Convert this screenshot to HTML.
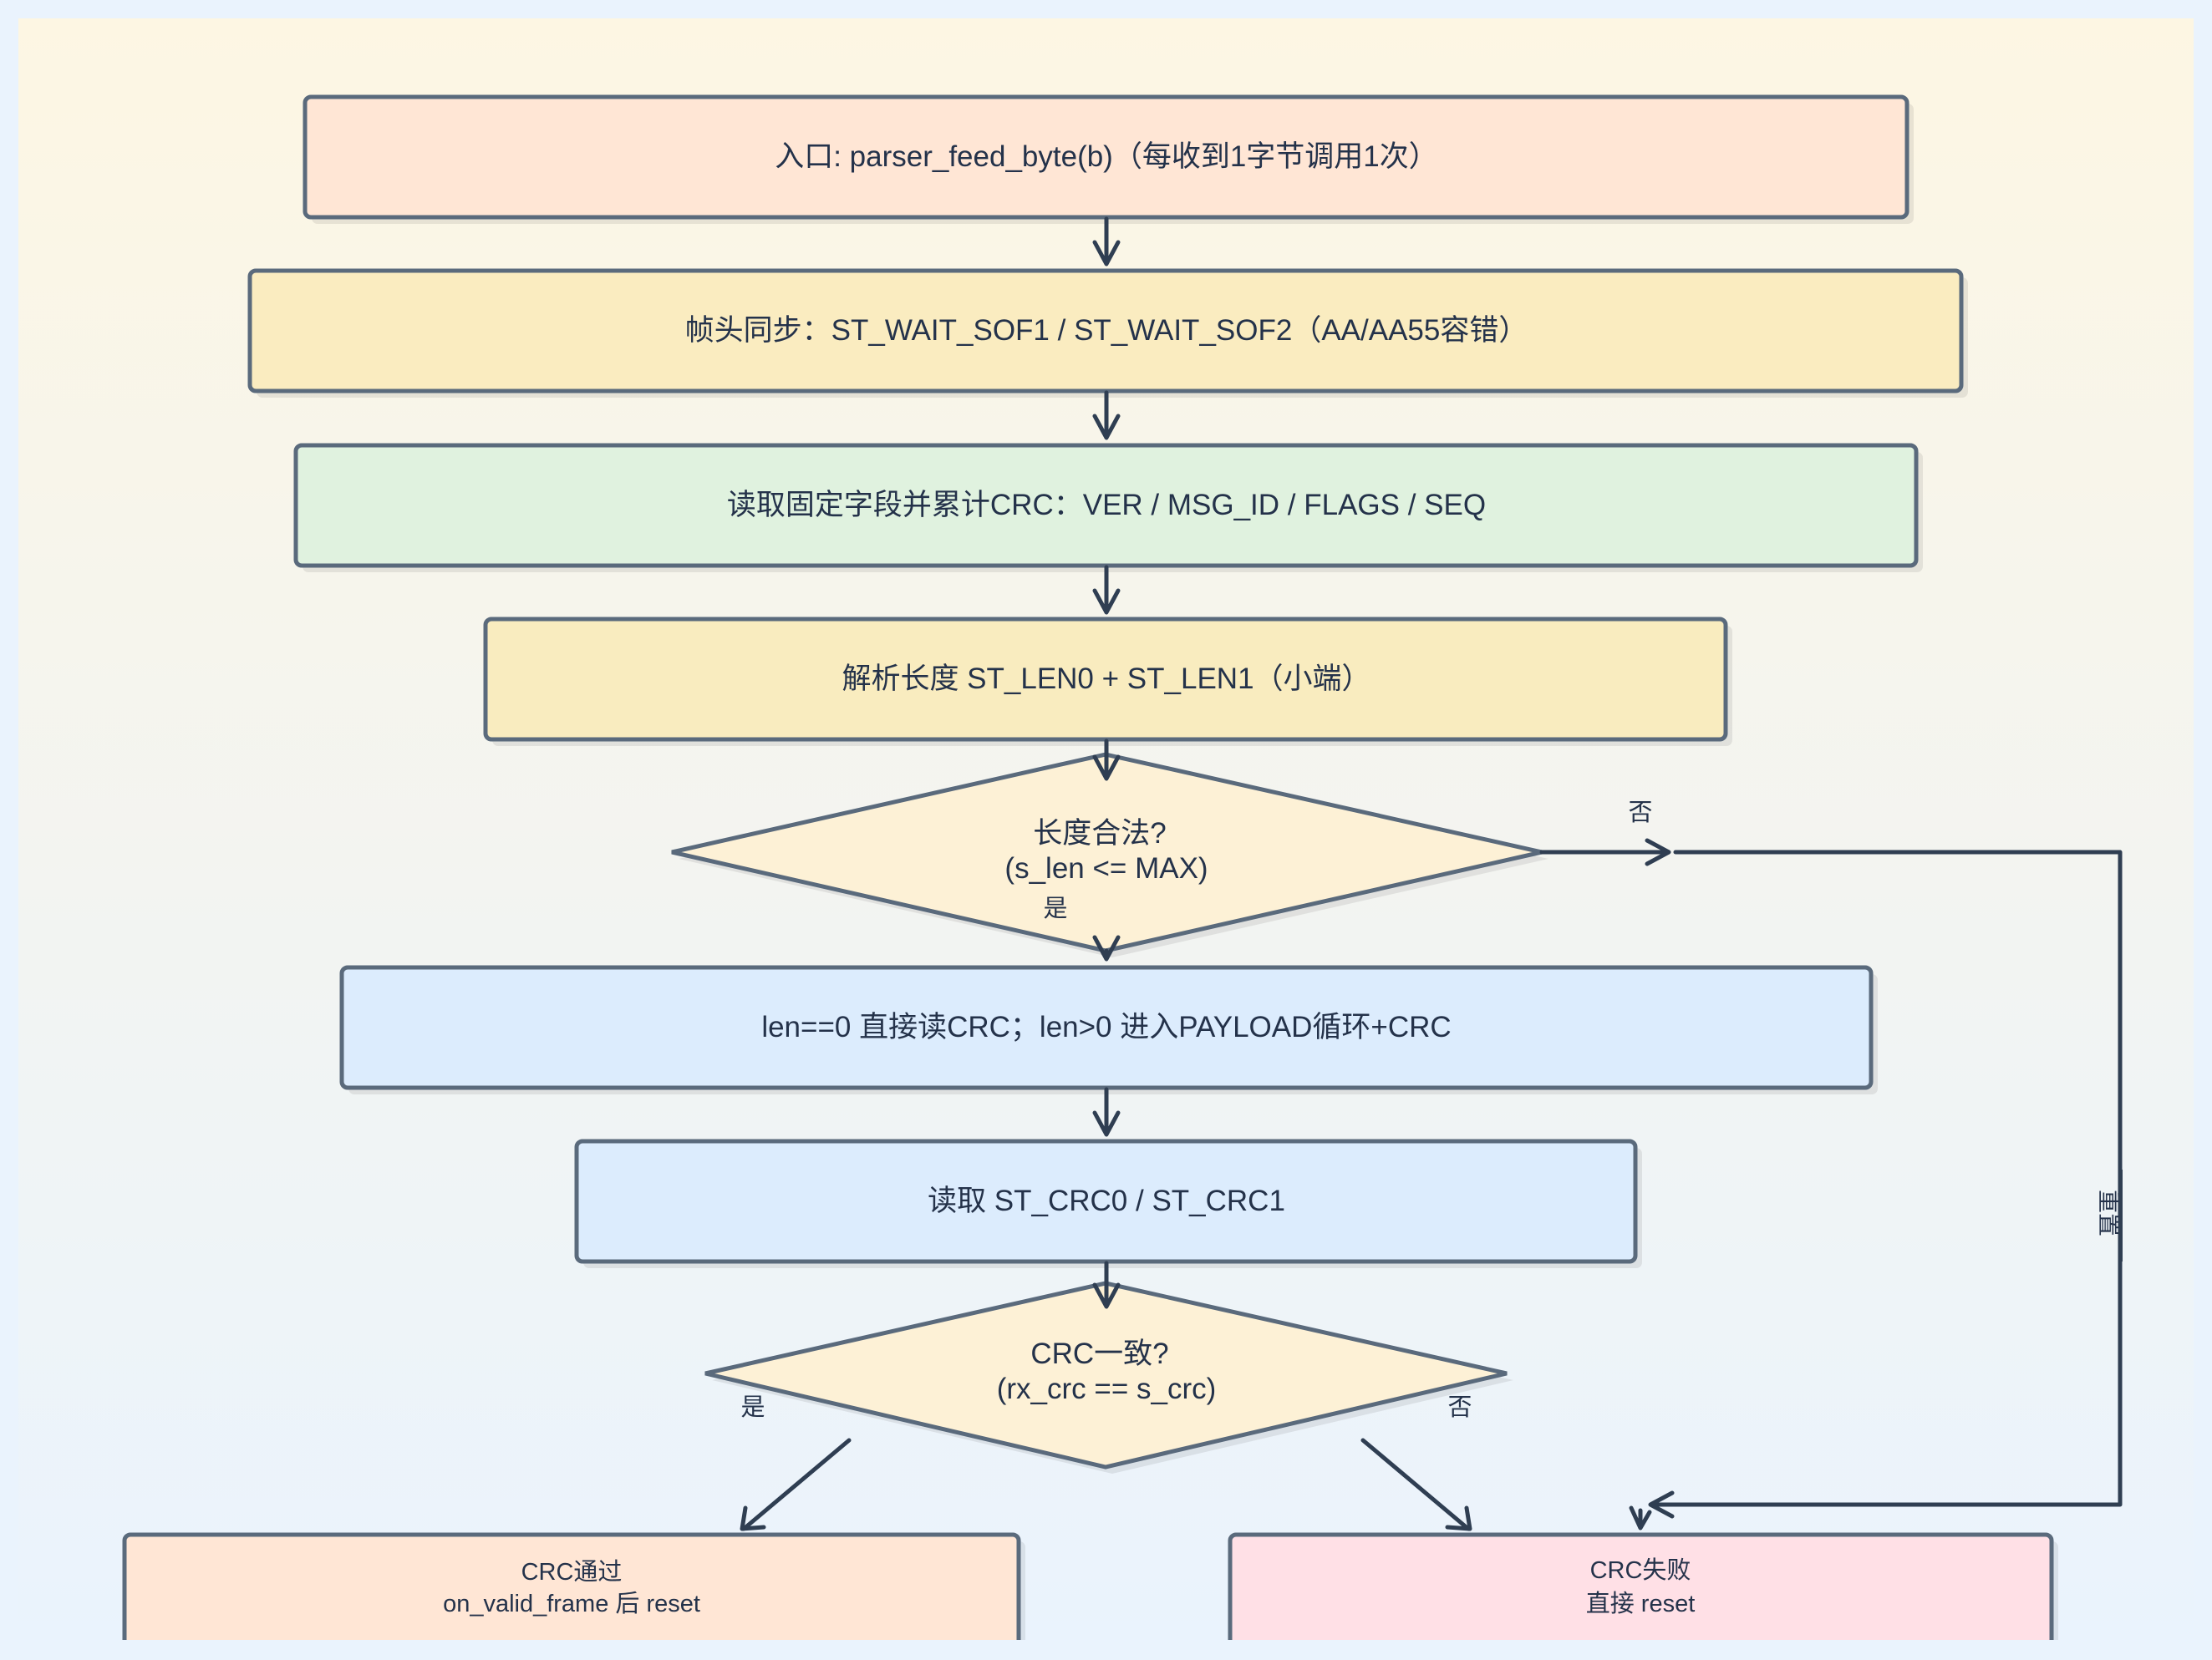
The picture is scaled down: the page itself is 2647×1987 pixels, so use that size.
<!DOCTYPE html>
<html><head><meta charset="utf-8"><style>
html,body{margin:0;padding:0;background:#eaf3fd;}
svg{display:block}
text{font-family:"Liberation Sans","Noto Sans CJK SC",sans-serif;fill:#24324a;}
</style></head><body>
<svg width="2647" height="1987" viewBox="0 0 2647 1987" xmlns="http://www.w3.org/2000/svg">
<defs>
<linearGradient id="bg" x1="0" y1="0" x2="0" y2="1">
<stop offset="0" stop-color="#fdf6e3"/><stop offset="1" stop-color="#eaf3fd"/>
</linearGradient>
<clipPath id="cp"><rect x="0" y="0" width="2647" height="1963"/></clipPath>
</defs>
<rect x="0" y="0" width="2647" height="1987" fill="#eaf3fd"/>
<rect x="22" y="22" width="2603" height="1941" fill="url(#bg)"/>
<g stroke="#5a6a7c" stroke-width="5" clip-path="url(#cp)">
<g fill="#000" fill-opacity="0.08" stroke="none">
<rect x="373" y="124" width="1917" height="144" rx="7"/>
<rect x="307" y="332" width="2048" height="144" rx="7"/>
<rect x="362" y="541" width="1939" height="144" rx="7"/>
<rect x="589" y="749" width="1484" height="144" rx="7"/>
<rect x="417" y="1166" width="1830" height="144" rx="7"/>
<rect x="698" y="1374" width="1267" height="144" rx="7"/>
<rect x="157" y="1845" width="1070" height="144" rx="7"/>
<rect x="1480" y="1845" width="983" height="144" rx="7"/>
<polygon points="812,1028 1331,911 1853,1028 1331,1146"/>
<polygon points="852,1652 1331,1544 1811,1652 1331,1764"/>
</g>
<rect x="365" y="116" width="1917" height="144" rx="7" fill="#ffe6d5"/>
<rect x="299" y="324" width="2048" height="144" rx="7" fill="#faecc0"/>
<rect x="354" y="533" width="1939" height="144" rx="7" fill="#e0f2df"/>
<rect x="581" y="741" width="1484" height="144" rx="7" fill="#f9ecbf"/>
<polygon points="804,1020 1323,903 1845,1020 1323,1138" fill="#fdf1d6"/>
<rect x="409" y="1158" width="1830" height="144" rx="7" fill="#dcecfd"/>
<rect x="690" y="1366" width="1267" height="144" rx="7" fill="#dcecfd"/>
<polygon points="844,1644 1323,1536 1803,1644 1323,1756" fill="#fdf1d6"/>
<rect x="149" y="1837" width="1070" height="144" rx="7" fill="#ffe6d5"/>
<rect x="1472" y="1837" width="983" height="144" rx="7" fill="#ffe0e6"/>
</g>
<g stroke="#2f3e52" stroke-width="5" fill="none" stroke-linecap="round" stroke-linejoin="round">
<path d="M1324 262V314 M1310 290L1324 316L1338 290"/>
<path d="M1324 470V522 M1310 498L1324 524L1338 498"/>
<path d="M1324 679V731 M1310 707L1324 733L1338 707"/>
<path d="M1324 887V930 M1310 906L1324 932L1338 906"/>
<path d="M1324 1138V1146 M1310 1122L1324 1148L1338 1122"/>
<path d="M1324 1304V1356 M1310 1332L1324 1358L1338 1332"/>
<path d="M1324 1512V1560 M1310 1538L1324 1564L1338 1538"/>
<path d="M1845 1020H1995 M1971 1006L1997 1020L1971 1034"/>
<path d="M2005 1020H2537V1801H1977 M2001 1787L1975 1801L2001 1815"/>
<path d="M1963 1808V1827 M1952 1805L1963 1829L1974 1810"/>
<path d="M1016 1724L890 1830 M892 1805L888 1830L914 1828"/>
<path d="M1631 1724L1757 1830 M1732 1828L1759 1830L1755 1805"/>
</g>
<g font-size="35" text-anchor="middle">
<text x="1324" y="199">入口: parser_feed_byte(b)（每收到1字节调用1次）</text>
<text x="1324" y="407">帧头同步：ST_WAIT_SOF1 / ST_WAIT_SOF2（AA/AA55容错）</text>
<text x="1324" y="616">读取固定字段并累计CRC：VER / MSG_ID / FLAGS / SEQ</text>
<text x="1324" y="824">解析长度 ST_LEN0 + ST_LEN1（小端）</text>
<text x="1316" y="1009">长度合法?</text>
<text x="1324" y="1051">(s_len &lt;= MAX)</text>
<text x="1324" y="1241">len==0 直接读CRC；len&gt;0 进入PAYLOAD循环+CRC</text>
<text x="1324" y="1449">读取 ST_CRC0 / ST_CRC1</text>
<text x="1316" y="1632">CRC一致?</text>
<text x="1324" y="1674">(rx_crc == s_crc)</text>
</g>
<g font-size="29" text-anchor="middle">
<text x="684" y="1891">CRC通过</text>
<text x="684" y="1929">on_valid_frame 后 reset</text>
<text x="1963" y="1889">CRC失败</text>
<text x="1963" y="1929">直接 reset</text>
<text x="1963" y="982">否</text>
<text x="1263" y="1097">是</text>
<text x="901" y="1694">是</text>
<text x="1747" y="1694">否</text>
</g>
<text x="2514" y="1452" font-size="28" text-anchor="middle" transform="rotate(90 2514 1452)">重置</text>
<rect x="2535" y="1400" width="5" height="110" fill="#2f3e52"/>
</svg>
</body></html>
